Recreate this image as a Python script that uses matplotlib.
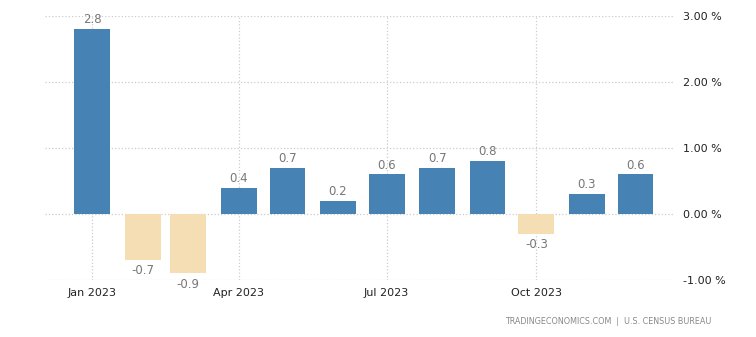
import datetime as dt
import matplotlib
matplotlib.use("Agg")
import matplotlib.pyplot as plt
import matplotlib.dates as mdates

# monthly change, 2023
months = [dt.date(2023, m, 1) for m in range(1, 13)]
values = [2.8, -0.7, -0.9, 0.4, 0.7, 0.2, 0.6, 0.7, 0.8, -0.3, 0.3, 0.6]
tick_dates = [dt.date(2023, 1, 1), dt.date(2023, 4, 1), dt.date(2023, 7, 1), dt.date(2023, 10, 1)]
tick_labels = ["Jan 2023", "Apr 2023", "Jul 2023", "Oct 2023"]
y_ticks = [-1, 0, 1, 2, 3]
source = "TRADINGECONOMICS.COM  |  U.S. CENSUS BUREAU"

blue = "#4682b4"
tan = "#f5deb3"

fig = plt.figure(figsize=(7.56, 3.37), dpi=100)
ax = fig.add_axes([45 / 756, 1 - 280 / 337, 628 / 756, 264 / 337])

colors = [blue if v >= 0 else tan for v in values]
ax.bar(months, values, width=22, color=colors, zorder=2)

for d, v in zip(months, values):
    if v >= 0:
        ax.annotate(f"{v:.1f}", (mdates.date2num(d), v), xytext=(0, 2),
                    textcoords="offset points", ha="center", va="bottom",
                    fontsize=8.5, color="#777777")
    else:
        ax.annotate(f"{v:.1f}", (mdates.date2num(d), v), xytext=(0, -3),
                    textcoords="offset points", ha="center", va="top",
                    fontsize=8.5, color="#777777")

ax.set_xlim(mdates.date2num(dt.date(2022, 12, 3)), mdates.date2num(dt.date(2023, 12, 24)))
ax.set_ylim(-1, 3)

ax.set_xticks([mdates.date2num(d) for d in tick_dates])
ax.set_xticklabels(tick_labels)
ax.set_yticks(y_ticks)
ax.set_yticklabels([f"{t:.2f} %" for t in y_ticks])
ax.yaxis.tick_right()
ax.tick_params(axis="both", length=0, labelsize=8, labelcolor="#222222")
ax.tick_params(axis="y", pad=7)
ax.tick_params(axis="x", pad=6)

ax.grid(True, linestyle=":", color="#cccccc", linewidth=0.9, zorder=0)
for s in ax.spines.values():
    s.set_visible(False)

fig.text(711 / 756, 1 - 322 / 337, source, ha="right", va="center",
         fontsize=5.8, color="#888888")

fig.savefig("out.png", dpi=100)
